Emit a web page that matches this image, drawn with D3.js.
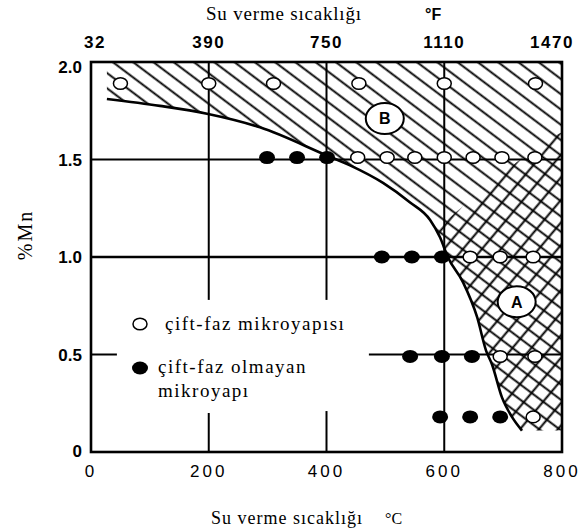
<!DOCTYPE html>
<html><head><meta charset="utf-8">
<script src="https://cdn.jsdelivr.net/npm/d3@7"></script>
<style>body{margin:0;background:#fff}</style>
</head><body>
<svg id="c" width="587" height="531"></svg>
<script>
// ---- data ----
const tempTicksC = [0, 200, 400, 600, 800];
const tempTickLabelsC = ["0", "200", "400", "600", "800"];
const tempTickLabelsF = ["32", "390", "750", "1110", "1470"];
const mnTicks = [2.0, 1.5, 1.0, 0.5, 0];
const mnTickLabels = ["2.0", "1.5", "1.0", "0.5", "0"];

// open circles: dual-phase microstructure
const dualTemp = [50, 200, 310, 455, 600, 755,
                  453, 503, 550, 600, 649, 698, 754,
                  644, 695, 751,
                  695, 754,
                  751];
const dualMn = [1.89, 1.89, 1.89, 1.89, 1.89, 1.89,
                1.51, 1.51, 1.51, 1.51, 1.51, 1.51, 1.51,
                1.0, 1.0, 1.0,
                0.49, 0.49,
                0.18];
// filled circles: non dual-phase microstructure
const nonDualTemp = [299, 350, 401, 494, 545, 596, 542, 596, 647, 593, 644, 695];
const nonDualMn = [1.51, 1.51, 1.51, 1.0, 1.0, 1.0, 0.49, 0.49, 0.49, 0.18, 0.18, 0.18];

// boundary curve of region B
const boundaryTemp = [27, 117, 197, 287, 401, 440, 496, 542, 576, 593, 606, 632, 656, 671, 681, 698, 715, 732];
const boundaryMn = [1.81, 1.775, 1.735, 1.665, 1.52, 1.47, 1.38, 1.28, 1.19, 1.10, 1.00, 0.87, 0.69, 0.52, 0.45, 0.28, 0.18, 0.11];
// upper boundary of region A
const regionATopTemp = [588, 632, 683, 729, 763, 800];
const regionATopMn = [1.15, 1.26, 1.39, 1.50, 1.58, 1.64];

const gridMn = [1.5, 1.0, 0.5];
const gridTemp = [200, 400, 600];

// ---- layout ----
const svg = d3.select("#c");
const x = d3.scaleLinear().domain([0, 800]).range([91, 562]);
const y = d3.scaleLinear().domain([0, 2]).range([452, 62]);
const serif = "'Liberation Serif','Times New Roman',serif";
const sans = "'Liberation Sans',Arial,sans-serif";

const defs = svg.append("defs");
defs.append("clipPath").attr("id", "frame").append("rect")
  .attr("x", x(0)).attr("y", y(2)).attr("width", x(800) - x(0)).attr("height", y(0) - y(2));
function hatch(id, angle, gap) {
  const p = defs.append("pattern").attr("id", id).attr("patternUnits", "userSpaceOnUse")
    .attr("width", 40).attr("height", gap).attr("patternTransform", `rotate(${angle})`);
  p.append("line").attr("x1", 0).attr("x2", 40).attr("y1", gap / 2).attr("y2", gap / 2)
    .attr("stroke", "#000").attr("stroke-width", 1.9);
}
hatch("hB", 37, 12.2);
hatch("hA", -50, 14.5);

const plot = svg.append("g").attr("clip-path", "url(#frame)");

// regions
const pts = boundaryTemp.map((t, i) => [x(t), y(boundaryMn[i])]);
const curve = d3.line().curve(d3.curveMonotoneX);
const curveD = curve(pts);
const pathB = `M${x(boundaryTemp[0])},${y(2.05)}L` + curveD.slice(1) +
  `L${x(810)},${y(boundaryMn[boundaryMn.length - 1])}L${x(810)},${y(2.05)}Z`;
plot.append("path").attr("d", pathB).attr("fill", "url(#hB)");

const iStart = boundaryMn.findIndex(m => m <= 1.10);
const topA = regionATopTemp.map((t, i) => [x(t), y(regionATopMn[i])]);
const lowerD = curve(pts.slice(iStart));
// region A: boundary curve segment, bottom, right edge, top boundary back
const topRev = d3.line().curve(d3.curveMonotoneX)(topA.slice().reverse());
const pathA = lowerD + `L${x(810)},${y(0.11)}L${x(810)},${y(1.64)}L` + topRev.slice(1) + "Z";
plot.append("path").attr("d", pathA).attr("fill", "url(#hA)");

// grid lines
const gl = plot.append("g").attr("stroke", "#000").attr("stroke-width", 2);
gl.append("line").attr("x1", x(0)).attr("x2", x(800)).attr("y1", y(gridMn[0])).attr("y2", y(gridMn[0]));
gl.append("line").attr("x1", x(0)).attr("x2", x(800)).attr("y1", y(gridMn[1])).attr("y2", y(gridMn[1])).attr("stroke-width", 2.4);
gl.append("line").attr("x1", x(0)).attr("x2", x(44)).attr("y1", y(gridMn[2])).attr("y2", y(gridMn[2]));
gl.append("line").attr("x1", x(472)).attr("x2", x(800)).attr("y1", y(gridMn[2])).attr("y2", y(gridMn[2]));
gl.append("line").attr("x1", x(gridTemp[0])).attr("x2", x(gridTemp[0])).attr("y1", y(2)).attr("y2", y(0.78));
gl.append("line").attr("x1", x(gridTemp[0])).attr("x2", x(gridTemp[0])).attr("y1", y(0.2)).attr("y2", y(0));
gl.append("line").attr("x1", x(gridTemp[1])).attr("x2", x(gridTemp[1])).attr("y1", y(2)).attr("y2", y(0.78));
gl.append("line").attr("x1", x(gridTemp[1])).attr("x2", x(gridTemp[1])).attr("y1", y(0.21)).attr("y2", y(0));
gl.append("line").attr("x1", x(gridTemp[2])).attr("x2", x(gridTemp[2])).attr("y1", y(2)).attr("y2", y(0));

// boundary curve
plot.append("path").attr("d", curveD).attr("fill", "none").attr("stroke", "#000").attr("stroke-width", 2.6);

// points
plot.selectAll("ellipse.open").data(dualTemp).join("ellipse").attr("class", "open")
  .attr("cx", d => x(d)).attr("cy", (d, i) => y(dualMn[i])).attr("rx", 7).attr("ry", 5.8)
  .attr("fill", "#fff").attr("stroke", "#000").attr("stroke-width", 1.5);
plot.selectAll("ellipse.fill").data(nonDualTemp).join("ellipse").attr("class", "fill")
  .attr("cx", d => x(d)).attr("cy", (d, i) => y(nonDualMn[i])).attr("rx", 8).attr("ry", 6.5)
  .attr("fill", "#000");

// region labels
function regionLabel(t, m, txt) {
  const g = svg.append("g").attr("transform", `translate(${x(t)},${y(m)})`);
  g.append("ellipse").attr("rx", 19).attr("ry", 15.5).attr("fill", "#fff").attr("stroke", "#000").attr("stroke-width", 2);
  g.append("text").attr("text-anchor", "middle").attr("dy", "0.36em").attr("font-family", sans)
    .attr("font-weight", "bold").attr("font-size", 16).text(txt);
}
regionLabel(499, 1.71, "B");
regionLabel(723, 0.77, "A");

// frame
svg.append("rect").attr("x", x(0)).attr("y", y(2)).attr("width", x(800) - x(0)).attr("height", y(0) - y(2))
  .attr("fill", "none").attr("stroke", "#000").attr("stroke-width", 2.6);

// top axis (°F)
svg.selectAll("text.f").data(tempTicksC).join("text").attr("class", "f")
  .attr("x", (d, i) => Math.min(Math.max(x(d), 95), 552)).attr("y", 48)
  .attr("text-anchor", "middle").attr("font-family", sans).attr("font-weight", "bold")
  .attr("font-size", 17).attr("letter-spacing", 1.5).text((d, i) => tempTickLabelsF[i]);
// bottom axis (°C)
svg.selectAll("text.c").data(tempTicksC).join("text").attr("class", "c")
  .attr("x", d => Math.max(x(d), 86)).attr("y", 477)
  .attr("text-anchor", "middle").attr("font-family", sans)
  .attr("font-size", 17).attr("letter-spacing", 3).text((d, i) => tempTickLabelsC[i]);
// left axis
svg.selectAll("text.m").data(mnTicks).join("text").attr("class", "m")
  .attr("x", 82).attr("y", d => Math.min(Math.max(y(d), 67), 451)).attr("dy", "0.36em")
  .attr("text-anchor", "end").attr("font-family", sans).attr("font-weight", "bold")
  .attr("font-size", 17).text((d, i) => mnTickLabels[i]);

// titles
svg.append("text").attr("x", 206).attr("y", 20).attr("font-family", serif).attr("font-size", 19)
  .attr("letter-spacing", 0.8).text("Su verme sıcaklığı");
svg.append("text").attr("x", 425).attr("y", 20).attr("font-family", sans).attr("font-weight", "bold")
  .attr("font-size", 16).text("°F");
svg.append("text").attr("x", 211).attr("y", 524).attr("font-family", serif).attr("font-size", 18)
  .attr("letter-spacing", 1).text("Su verme sıcaklığı");
svg.append("text").attr("x", 385).attr("y", 524).attr("font-family", serif).attr("font-size", 16)
  .text("°C");
svg.append("text").attr("transform", "translate(32,235) rotate(-90)").attr("text-anchor", "middle")
  .attr("font-family", serif).attr("font-size", 20).attr("letter-spacing", 2).text("%Mn");

// legend
const lg = svg.append("g");
lg.append("ellipse").attr("cx", 140).attr("cy", 324).attr("rx", 7).attr("ry", 5.8)
  .attr("fill", "#fff").attr("stroke", "#000").attr("stroke-width", 1.5);
lg.append("ellipse").attr("cx", 140).attr("cy", 368).attr("rx", 8).attr("ry", 6.5).attr("fill", "#000");
lg.append("text").attr("x", 165).attr("y", 330).attr("font-family", serif).attr("font-size", 19)
  .attr("letter-spacing", 1.5).text("çift-faz mikroyapısı");
lg.append("text").attr("x", 158).attr("y", 373).attr("font-family", serif).attr("font-size", 19)
  .attr("letter-spacing", 1.5).text("çift-faz olmayan");
lg.append("text").attr("x", 158).attr("y", 397).attr("font-family", serif).attr("font-size", 19)
  .attr("letter-spacing", 1.5).text("mikroyapı");
</script>
</body></html>
